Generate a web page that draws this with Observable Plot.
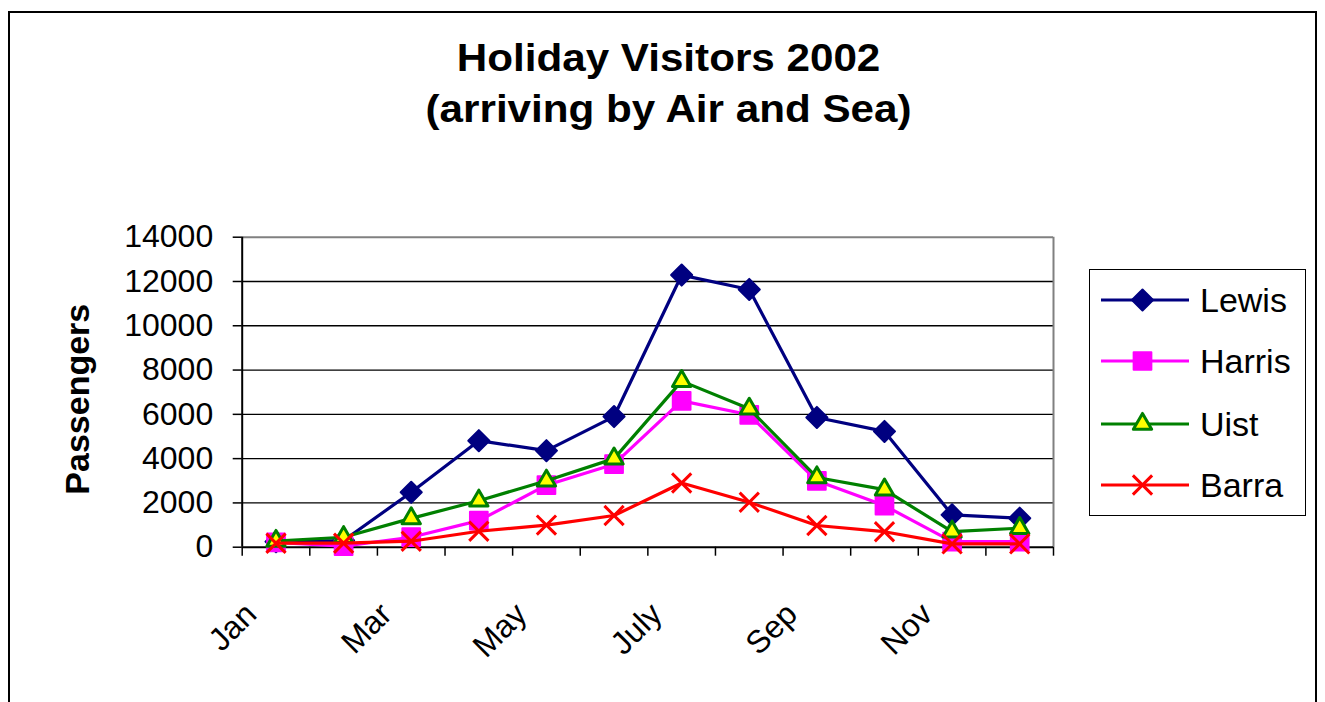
<!DOCTYPE html>
<html>
<head>
<meta charset="utf-8">
<script src="https://cdn.jsdelivr.net/npm/d3@7"></script>
<script src="https://cdn.jsdelivr.net/npm/@observablehq/plot@0.6"></script>
<style>
  html, body { margin: 0; padding: 0; background: #fff; overflow: hidden; }
  body { width: 1325px; height: 702px; position: relative; font-family: "Liberation Sans", Arial, sans-serif; }
  #frame { position: absolute; left: 8px; top: 11px; width: 1309px; height: 760px; border: 2px solid #000; box-sizing: border-box; }
  .title { position: absolute; left: 0; width: 1337px; text-align: center; font-weight: bold; font-size: 38px; line-height: 38px; transform: scaleX(1.11); transform-origin: 668px 0; white-space: nowrap; color: #000; }
  #chart { position: absolute; left: 0; top: 180px; }
  #legend { position: absolute; left: 1089px; top: 269px; width: 217px; height: 247px; border: 1.5px solid #000; box-sizing: border-box; background: #fff; }
  .row { position: absolute; display: flex; align-items: center; height: 30px; }
  .row span { font-size: 34px; line-height: 30px; margin-left: 11px; color: #000; }
</style>
</head>
<body>
<div id="frame"></div>
<div class="title" style="top:39px">Holiday Visitors 2002</div>
<div class="title" style="top:90px">(arriving by Air and Sea)</div>
<div id="chart"></div>
<div id="legend"></div>
<script>
// ---- data ----
const months = ["Jan","Feb","Mar","Apr","May","June","July","Aug","Sep","Oct","Nov","Dec"];
const labelMonths = ["Jan","Mar","May","July","Sep","Nov"];
const yTicks = [0, 2000, 4000, 6000, 8000, 10000, 12000, 14000];
const seriesNames = ["Lewis", "Harris", "Uist", "Barra"];
const lewis  = [250, 300, 2480, 4810, 4360, 5900, 12290, 11640, 5860, 5230, 1460, 1310];
const harris = [220, 50, 450, 1200, 2800, 3750, 6610, 5980, 3000, 1880, 250, 250];
const uist   = [280, 450, 1300, 2100, 3000, 4000, 7500, 6250, 3150, 2600, 700, 860];
const barra  = [180, 180, 270, 720, 1000, 1430, 2900, 2030, 980, 700, 150, 150];

// ---- styles ----
const styles = {
  Lewis:  {line: "#000080", symbol: "diamond2", r: 9.5, fill: "#000080", stroke: "#000080", sw: 2},
  Harris: {line: "#FF00FF", symbol: "square", r: 10, fill: "#FF00FF", stroke: "#FF00FF", sw: 2},
  Uist:   {line: "#008000", symbol: "triangle", r: 6.8, fill: "#FFFF00", stroke: "#008000", sw: 3},
  Barra:  {line: "#FF0000", symbol: "times", r: 8.8, fill: "none", stroke: "#FF0000", sw: 3}
};

const valuesBySeries = {Lewis: lewis, Harris: harris, Uist: uist, Barra: barra};
const data = seriesNames.flatMap(s => valuesBySeries[s].map((v, i) => ({series: s, month: i, value: v})));

const seriesMarks = seriesNames.flatMap(s => {
  const st = styles[s];
  const d = data.filter(r => r.series === s);
  return [
    Plot.line(d, {x: "month", y: "value", stroke: st.line, strokeWidth: 3.2, strokeLinejoin: "round"}),
    Plot.dot(d, {x: "month", y: "value", symbol: () => st.symbol, r: st.r, fill: st.fill, stroke: st.stroke, strokeWidth: st.sw, strokeLinejoin: "round"})
  ];
});

const chart = Plot.plot({
  width: 1080,
  height: 522,
  marginLeft: 241.7,
  marginTop: 56.7,
  marginRight: 27,
  marginBottom: 155.3,
  x: {type: "linear", domain: [-0.5, 11.5]},
  y: {domain: [0, 14000]},
  symbol: {type: "identity"},
  style: {fontFamily: "'Liberation Sans', Arial, sans-serif", color: "#000", background: "transparent"},
  marks: [
    Plot.ruleY(yTicks.filter(d => d > 0 && d < 14000), {stroke: "#000", strokeWidth: 1.3}),
    Plot.ruleY([yTicks[yTicks.length - 1]], {stroke: "#808080", strokeWidth: 2}),
    Plot.ruleX([months.length - 0.5], {stroke: "#808080", strokeWidth: 2}),
    Plot.ruleY([0], {stroke: "#000", strokeWidth: 2}),
    Plot.ruleX([-0.5], {stroke: "#000", strokeWidth: 2}),
    Plot.axisY({ticks: yTicks, tickSize: 9, tickPadding: 20, fontSize: 32, label: null, strokeWidth: 1.5, tickFormat: d => String(d)}),
    Plot.axisX({ticks: d3.range(months.length + 1).map(i => i - 0.5), tickSize: 9, strokeWidth: 1.5, tickFormat: () => "", label: null}),
    Plot.axisX({ticks: labelMonths.map(m => months.indexOf(m)), tickSize: 0, tickRotate: -45, fontSize: 32, tickFormat: i => months[i], label: null, dx: -25, dy: 50}),
    Plot.text(["Passengers"], {frameAnchor: "left", textAnchor: "middle", dx: -163.7, dy: 7, rotate: -90, fontWeight: "bold", fontSize: 34}),
    ...seriesMarks
  ]
});
document.getElementById("chart").appendChild(chart);

// ---- legend ----
const legend = d3.select("#legend");
const rowCenters = [300.7, 361.7, 424, 485];
seriesNames.forEach((s, k) => {
  const st = styles[s];
  const row = legend.append("div").attr("class", "row")
    .style("left", (1101.5 - 1089 - 1.5) + "px")
    .style("top", (rowCenters[k] - 269 - 1.5 - 15) + "px");
  const svg = row.append("svg").attr("width", 88).attr("height", 30);
  svg.append("line").attr("x1", 0).attr("x2", 88).attr("y1", 15).attr("y2", 15)
    .attr("stroke", st.line).attr("stroke-width", 3);
  const symType = {diamond2: d3.symbolDiamond2, square: d3.symbolSquare, triangle: d3.symbolTriangle, times: d3.symbolTimes}[st.symbol];
  svg.append("path").attr("transform", "translate(41.5,15)")
    .attr("d", d3.symbol(symType, Math.PI * st.r * st.r)())
    .attr("fill", st.fill).attr("stroke", st.stroke).attr("stroke-width", st.sw).attr("stroke-linejoin", "round");
  row.append("span").text(s);
});
</script>
</body>
</html>
